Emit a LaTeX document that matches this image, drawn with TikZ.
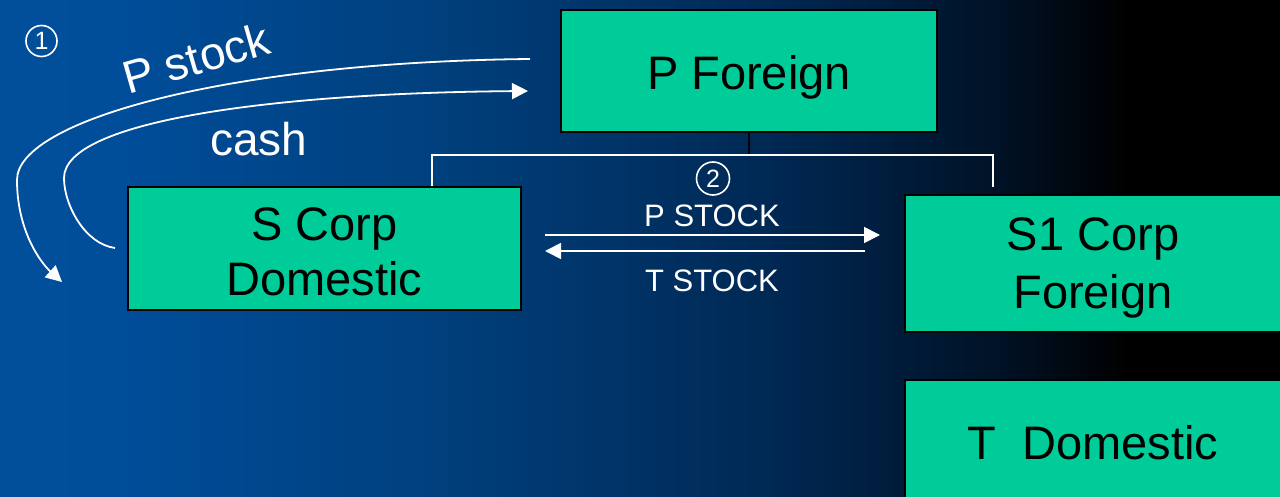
\documentclass[tikz,border=0pt]{standalone}
\usepackage{fontspec}
\setmainfont{Liberation Sans}
\usetikzlibrary{arrows.meta}
\definecolor{boxgreen}{RGB}{0,204,153}
\pgfdeclarehorizontalshading{bgshade}{100bp}{rgb(0bp)=(0.03,0.35,0.66); rgb(30bp)=(0.0,0.30,0.60); rgb(42bp)=(0.0,0.25,0.49); rgb(55bp)=(0.0,0.16,0.33); rgb(64bp)=(0.0,0.07,0.15); rgb(69bp)=(0,0,0); rgb(100bp)=(0,0,0)}
\begin{document}
\begin{tikzpicture}[x=1pt,y=-1pt,
  box/.style={draw=black, line width=2pt, fill=boxgreen, inner sep=0pt},
  btxt/.style={inner sep=0pt, align=center, text=black, font=\fontsize{47}{55}\selectfont},
  lab/.style={text=white, inner sep=0pt},
  circnum/.style={circle, draw=white, line width=1.6pt, text=white, inner sep=0pt,
    minimum size=31pt, font=\fontsize{25}{25}\selectfont},
  wline/.style={draw=white, line width=1.8pt},
  warrow/.style={wline, -{Triangle[length=16pt,width=16pt]}}]
\shade[shading=bgshade] (0,0) rectangle (1280,497);
\useasboundingbox (0,0) rectangle (1280,497);

\node[box, minimum width=376pt, minimum height=122pt] (pf) at (749,71) {};
\node[box, minimum width=393pt, minimum height=123pt] (sc) at (324.5,248.5) {};
\node[box, minimum width=376pt, minimum height=137pt] (s1) at (1093,263.5) {};
\node[box, minimum width=376pt, minimum height=126pt] (td) at (1093,443) {};
\node[btxt] (pft) at ([yshift=-6pt]pf.center) {P Foreign};
\node[btxt] (sct) at ([yshift=-3pt]sc.center) {S Corp\\Domestic};
\node[btxt, font=\fontsize{47}{58}\selectfont] (s1t) at ([yshift=-4pt]s1.center) {S1 Corp\\Foreign};
\node[btxt] (tdt) at (td.center) {T\ \ Domestic};

% ownership connector
\coordinate (jl) at (432,155);
\coordinate (jr) at (993,155);
\coordinate (jre) at (993,187);
\draw[black, line width=1.8pt] (pf.south) -- (pf.south |- jl);
\draw[wline] (sc.north -| jl) -- (jl) -- (jr) -- (jre);

% step 2 arrows
\coordinate (a1s) at (545,235);
\coordinate (a1e) at (880,235);
\coordinate (a2s) at (865,251);
\coordinate (a2e) at (545,251);
\draw[warrow] (a1s) -- (a1e);
\draw[warrow] (a2s) -- (a2e);
\node[circnum, minimum size=33pt] (n2) at (713,178.5) {2};
\node[lab, font=\fontsize{31}{31}\selectfont] (ps) at (712,216) {P STOCK};
\node[lab, font=\fontsize{31}{31}\selectfont] (ts) at (712,281) {T STOCK};

% step 1 curves
\coordinate (c1s) at (530,59);
\coordinate (c1e) at (62,282);
\coordinate (c2s) at (115,248);
\coordinate (c2e) at (528,91);
\draw[warrow] (c1s) .. controls (230,62) and (17,120) .. (17,180) .. controls (17,230) and (40,262) .. (c1e);
\draw[warrow] (c2s) .. controls (85,244) and (64,205) .. (64,178) .. controls (64,120) and (280,93) .. (c2e);
\node[circnum] (n1) at (41.5,41) {1};
\node[lab, font=\fontsize{46}{46}\selectfont, rotate=16] (pst) at (196,58) {P stock};
\node[lab, font=\fontsize{46}{46}\selectfont] (cash) at (259,139) {cash};
\end{tikzpicture}
\end{document}
